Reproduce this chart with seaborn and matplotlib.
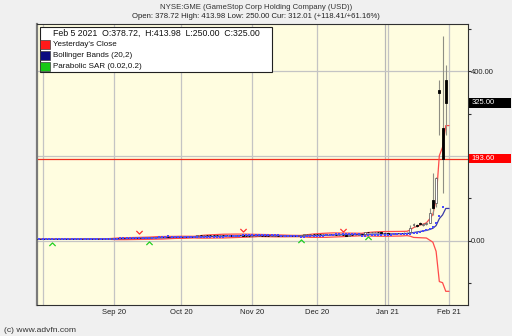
import numpy as np
import pandas as pd
import matplotlib
matplotlib.use("Agg")
import matplotlib.pyplot as plt
import matplotlib.transforms as mtransforms
from matplotlib.patches import Rectangle
import seaborn as sns

# ---------------- data ----------------
symbol_title = "NYSE:GME (GameStop Corp Holding Company (USD))"
quote_line = "Open: 378.72 High: 413.98 Low: 250.00 Cur: 312.01 (+118.41/+61.16%)"
legend_header = "Feb 5 2021  O:378.72,  H:413.98  L:250.00  C:325.00"
legend_labels = ["Yesterday's Close", "Bollinger Bands (20,2)", "Parabolic SAR (0.02,0.2)"]
legend_colors = ["#ff1a1a", "#0a0a80", "#16c816"]
footer = "(c) www.advfn.com"

start_date = "2020-07-01"
end_date = "2021-02-01"
holidays = ["2020-07-03", "2020-09-07", "2020-11-26", "2020-12-25",
            "2021-01-01", "2021-01-18"]

# closes Jul 1 - Jul 28 2020 (only feed the 20-day Bollinger window)
warmup_closes = [4.39, 4.21, 4.16, 4.02, 3.98, 3.89, 3.95, 4.02, 4.05, 4.13,
                 4.04, 4.03, 4.09, 4.17, 4.25, 4.24, 4.30, 4.37, 4.28]

# daily OHLC, Jul 29 2020 - Jan 29 2021
opens = [4.20, 4.15, 4.08,
         4.02, 4.12, 4.36, 4.45, 4.42, 4.47, 4.64, 4.47, 4.52, 4.46, 4.50, 4.60, 4.55, 4.60, 4.92, 4.85, 5.05, 5.02, 4.92, 5.21, 5.60,
         6.80, 7.60, 7.45, 7.20, 6.85, 7.00, 7.30, 7.72, 7.65, 7.42, 7.48, 7.90, 9.05, 9.75, 10.10, 10.15, 9.70, 9.90, 9.40, 9.70, 9.80,
         10.10, 9.70, 9.45, 9.50, 9.20, 11.80, 13.60, 13.40, 14.70, 14.10, 13.90, 13.70, 13.40, 14.30, 14.10, 13.20, 12.70, 12.80, 13.70, 13.10, 11.60, 11.30,
         10.70, 11.10, 11.35, 11.50, 11.40, 11.30, 11.00, 11.20, 11.25, 11.05, 11.70, 11.90, 12.20, 11.80, 11.60, 12.10, 13.80, 15.90, 16.20, 16.90,
         16.60, 16.50, 16.10, 16.95, 16.80, 16.40, 13.90, 13.80, 14.00, 13.30, 12.80, 13.90, 13.80, 14.10, 15.60, 16.00, 20.50, 20.10, 20.30, 20.90, 20.00, 19.30,
         19.00, 17.35, 17.34, 18.47, 18.18, 19.41, 19.96, 20.42, 38.49, 38.49, 41.55, 37.37, 39.23, 42.59, 96.73, 88.56, 354.83, 265.00, 379.71]
highs = [4.28, 4.19, 4.12,
         4.18, 4.40, 4.52, 4.50, 4.51, 4.68, 4.66, 4.58, 4.55, 4.53, 4.64, 4.63, 4.62, 4.97, 4.98, 5.08, 5.12, 5.06, 5.25, 5.34, 6.80,
         7.83, 7.74, 7.55, 7.30, 7.10, 7.34, 7.85, 7.95, 7.72, 7.62, 7.95, 9.10, 10.00, 10.40, 10.60, 10.20, 10.10, 10.00, 9.85, 9.95, 10.35,
         10.25, 9.80, 9.70, 9.65, 9.45, 14.29, 14.15, 15.10, 14.90, 14.40, 14.10, 13.85, 14.75, 14.60, 14.20, 13.30, 13.00, 14.00, 14.10, 13.20, 11.80, 11.45,
         11.20, 11.60, 11.70, 11.75, 11.55, 11.60, 11.35, 11.45, 11.35, 11.20, 12.25, 12.50, 12.35, 11.95, 12.20, 13.90, 16.20, 16.70, 17.30, 17.20,
         17.00, 16.80, 17.10, 17.40, 16.95, 17.20, 14.20, 14.50, 14.10, 13.40, 14.00, 14.30, 14.30, 15.80, 16.20, 21.40, 21.40, 20.50, 21.20, 21.00, 20.20, 19.40,
         19.10, 18.08, 18.98, 19.45, 18.30, 20.65, 20.40, 38.65, 43.06, 40.75, 45.52, 41.19, 44.75, 76.76, 159.18, 150.00, 380.00, 483.00, 413.98]
lows = [4.10, 4.02, 3.96,
        4.00, 4.10, 4.33, 4.37, 4.38, 4.45, 4.43, 4.44, 4.42, 4.42, 4.47, 4.52, 4.50, 4.58, 4.76, 4.82, 4.96, 4.88, 4.90, 5.15, 5.50,
        6.75, 7.35, 7.20, 6.70, 6.65, 6.95, 7.20, 7.55, 7.25, 7.30, 7.40, 7.85, 8.90, 9.60, 9.90, 9.50, 9.55, 9.25, 9.30, 9.55, 9.70,
        9.60, 9.20, 9.30, 9.05, 9.10, 11.65, 12.85, 13.30, 13.80, 13.60, 13.40, 13.10, 13.30, 13.90, 13.05, 12.50, 12.45, 12.70, 13.20, 11.45, 11.00, 10.50,
        10.55, 10.95, 11.10, 11.30, 11.05, 10.90, 10.85, 11.05, 10.95, 10.85, 11.55, 11.80, 11.70, 11.45, 11.50, 12.00, 13.60, 15.30, 15.90, 16.10,
        16.30, 15.90, 16.00, 16.70, 16.20, 16.30, 13.40, 13.60, 13.20, 12.60, 12.75, 13.60, 13.70, 14.00, 15.30, 15.90, 19.90, 19.90, 20.20, 19.80, 19.10, 18.50,
        17.15, 17.23, 17.33, 18.02, 17.08, 19.01, 19.32, 20.03, 33.05, 34.01, 36.64, 36.06, 37.00, 42.32, 61.13, 80.20, 249.00, 112.25, 250.00]
closes = [4.18, 4.08, 4.01,
          4.13, 4.35, 4.44, 4.43, 4.45, 4.62, 4.45, 4.53, 4.46, 4.49, 4.59, 4.56, 4.58, 4.91, 4.82, 5.04, 5.03, 4.91, 5.20, 5.24, 6.68,
          7.65, 7.51, 7.35, 6.78, 6.94, 7.23, 7.70, 7.68, 7.40, 7.45, 7.80, 8.98, 9.71, 10.11, 10.17, 9.65, 9.96, 9.32, 9.68, 9.78, 10.20,
          9.77, 9.39, 9.46, 9.13, 9.36, 13.49, 13.31, 14.83, 14.12, 13.96, 13.73, 13.31, 14.40, 14.19, 13.18, 12.68, 12.71, 13.77, 13.36, 11.63, 11.32, 10.65,
          11.05, 11.47, 11.42, 11.47, 11.20, 11.01, 11.19, 11.27, 11.03, 11.01, 11.88, 12.23, 11.78, 11.58, 12.03, 13.58, 15.80, 16.08, 16.94, 16.56,
          16.58, 16.12, 16.90, 16.90, 16.35, 16.94, 13.66, 14.12, 13.31, 12.72, 13.85, 13.84, 14.00, 15.63, 15.53, 20.99, 20.15, 20.15, 20.99, 20.01, 19.38, 18.84,
          17.25, 17.37, 18.36, 18.08, 17.69, 19.94, 19.95, 31.40, 39.91, 35.50, 39.36, 39.12, 43.03, 65.01, 76.79, 147.98, 347.51, 193.60, 325.00]

sell_signals = ["2020-09-14", "2020-10-28", "2020-12-11"]
buy_signals = ["2020-08-05", "2020-09-17", "2020-11-23", "2020-12-23"]

month_lines = ["2020-07-31", "2020-09-01", "2020-10-01", "2020-11-02",
               "2020-12-01", "2021-01-04", "2021-02-01"]
month_labels = ["", "Sep 20", "Oct 20", "Nov 20", "Dec 20", "Jan 21", "Feb 21"]
year_breaks = ["2021-01-04"]
y_ticks = [-100, 0, 100, 200, 300, 400, 500]
y_labelled = [0, 200, 400]
y_grid = [0, 200, 400]

# ---------------- derived ----------------
days = pd.bdate_range(start_date, end_date, freq="C", holidays=holidays)
pos = pd.Series(np.arange(len(days)), index=days)
n_warm = len(warmup_closes)
o = np.array(opens); h = np.array(highs); l = np.array(lows); c = np.array(closes)
x = np.arange(n_warm, n_warm + len(c))

s_all = pd.Series(warmup_closes + closes)
mid = s_all.rolling(20).mean().iloc[n_warm:].to_numpy()
sd = s_all.rolling(20).std(ddof=0).iloc[n_warm:].to_numpy()
upper = mid + 2 * sd
lower = mid - 2 * sd


def parabolic_sar(hi, lo, step=0.02, max_af=0.2):
    n = len(hi)
    sar = np.zeros(n)
    up = False
    af = step
    ep = lo[0]
    sar[0] = hi[0]
    for i in range(1, n):
        s = sar[i - 1] + af * (ep - sar[i - 1])
        if up:
            s = min(s, lo[i - 1], lo[max(i - 2, 0)])
            if lo[i] < s:
                up, s, ep, af = False, ep, lo[i], step
            elif hi[i] > ep:
                ep = hi[i]; af = min(af + step, max_af)
        else:
            s = max(s, hi[i - 1], hi[max(i - 2, 0)])
            if hi[i] > s:
                up, s, ep, af = True, ep, hi[i], step
            elif lo[i] < ep:
                ep = lo[i]; af = min(af + step, max_af)
        sar[i] = s
    return sar


sar = parabolic_sar(h, l)
yesterday_close = c[-2]
current_close = c[-1]

# ---------------- style ----------------
sns.set_theme(style="white")
plt.rcParams["font.family"] = ["Liberation Sans", "DejaVu Sans"]

W, H = 512, 336
fig = plt.figure(figsize=(W / 100, H / 100), dpi=100, facecolor="#f0f0f0")
L_px, R_px, T_px, B_px = 37, 467.7, 24, 305
ax = fig.add_axes([L_px / W, 1 - B_px / H, (R_px - L_px) / W, (B_px - T_px) / H])
ax.set_facecolor("#fffde0")
ax.set_xlim(19.24, 152.8)
ax.set_ylim(-150.6, 510.6)

# grid
for d in month_lines:
    ax.axvline(pos[pd.Timestamp(d)], color="#c4c4c4", lw=0.9, zorder=0.5)
for d in year_breaks:
    ax.axvline(pos[pd.Timestamp(d)] - 0.8, color="#b8b8b8", lw=0.9, zorder=0.5)
for v in y_grid:
    ax.axhline(v, color="#c4c4c4", lw=0.9, zorder=0.5)

# yesterday's close
ax.axhline(yesterday_close, color="#f03020", lw=0.9, zorder=1)

# Bollinger bands (with trailing step)
xe = np.append(x, x[-1] + 1)
for arr, col, lw in [(upper, "#ff4a4a", 0.9), (lower, "#ff4a4a", 0.9), (mid, "#3a3aa8", 0.9)]:
    sns.lineplot(x=xe, y=np.append(arr, arr[-1]), color=col, lw=lw, ax=ax,
                 zorder=2, estimator=None, sort=False)

# candles
up = c >= o
ax.vlines(x, l, h, color="#8e8e84", lw=0.8, zorder=3)
ax.bar(x[~up], (o - c)[~up], bottom=c[~up], width=0.6, color="black",
       edgecolor="black", lw=0.6, zorder=3.2)
ax.bar(x[up], (c - o)[up], bottom=o[up], width=0.6, facecolor="white",
       edgecolor="#505050", lw=0.5, zorder=3.2)

# parabolic SAR dots
sns.scatterplot(x=x[:-1], y=sar[:-1], marker="s", s=2.4, color="#4a4aff",
                linewidth=0, ax=ax, zorder=4)

# SAR reversal signals
v_marker = [(-1, 0.5), (0, -0.5), (1, 0.5)]
a_marker = [(-1, -0.5), (0, 0.5), (1, -0.5)]
tr_up = mtransforms.offset_copy(ax.transData, fig=fig, y=5.5, units="dots")
tr_dn = mtransforms.offset_copy(ax.transData, fig=fig, y=-5, units="dots")
sx = np.array([pos[pd.Timestamp(d)] for d in sell_signals])
bx = np.array([pos[pd.Timestamp(d)] for d in buy_signals])
ax.plot(sx, h[sx - n_warm], ls="none", marker=v_marker, ms=4.5, mfc="none",
        mec="#ff3030", mew=0.9, transform=tr_up, zorder=5)
ax.plot(bx, l[bx - n_warm], ls="none", marker=a_marker, ms=4.5, mfc="none",
        mec="#20d020", mew=0.9, transform=tr_dn, zorder=5)

# axes, ticks
for side in ["top", "right", "bottom"]:
    ax.spines[side].set_color("#303030")
    ax.spines[side].set_linewidth(0.8)
ax.spines["left"].set_color("#7a7a7a")
ax.spines["left"].set_linewidth(1.6)

ax.set_xticks([pos[pd.Timestamp(d)] for d in month_lines])
ax.set_xticklabels(month_labels)
ax.yaxis.tick_right()
ax.set_yticks(y_ticks)
ax.set_yticklabels([f"{v:.2f}" if v in y_labelled else "" for v in y_ticks])
ax.tick_params(axis="x", length=2.2, width=0.8, color="#909090", pad=1,
               labelsize=5.5, labelcolor="#222222")
ax.tick_params(axis="y", length=2.0, width=0.8, color="#303030", pad=0.5,
               labelsize=5.5, labelcolor="#222222")
ax.set_xlabel(""); ax.set_ylabel("")

# price label boxes on right
blend = mtransforms.blended_transform_factory(ax.transAxes, ax.transData)
box_x0 = (469 - L_px) / (R_px - L_px)
box_w = (510.7 - 469) / (R_px - L_px)
box_h = 9.5 * (510.6 + 150.6) / (B_px - T_px)
for val, col in [(current_close, "black"), (yesterday_close, "#ff0000")]:
    ax.add_patch(Rectangle((box_x0, val - box_h / 2), box_w, box_h, transform=blend,
                           facecolor=col, edgecolor="none", clip_on=False, zorder=6))
    ax.text(box_x0 + 0.006, val, f"{val:.2f}", transform=blend, color="white",
            fontsize=5.5, va="center", ha="left", clip_on=False, zorder=7)

# titles
fx = lambda px: px / W
fy = lambda py: 1 - py / H
fig.text(fx(256), fy(7.3), symbol_title, ha="center", va="center", fontsize=5.6, color="#333333")
fig.text(fx(256), fy(16.3), quote_line, ha="center", va="center", fontsize=5.6, color="#222222")
fig.text(fx(4), fy(330), footer, ha="left", va="center", fontsize=6.1, color="#333333")

# legend box
fig.add_artist(Rectangle((fx(39.5), fy(71.7)), (272.3 - 39.5) / W, (71.7 - 26.5) / H,
                         transform=fig.transFigure, facecolor="white",
                         edgecolor="#202020", lw=0.8, zorder=8))
fig.text(fx(53), fy(33.3), legend_header, ha="left", va="center", fontsize=6.3,
         color="#111111", zorder=9)
sq_top = [40.0, 50.8, 61.7]
for lab, col, t in zip(legend_labels, legend_colors, sq_top):
    fig.add_artist(Rectangle((fx(40), fy(t + 9.3)), 10 / W, 9.3 / H,
                             transform=fig.transFigure, facecolor=col,
                             edgecolor="#404040", lw=0.5, zorder=9))
    fig.text(fx(53), fy(t + 4.7), lab, ha="left", va="center", fontsize=5.8,
             color="#111111", zorder=9)

fig.savefig("out.png", dpi=100, facecolor=fig.get_facecolor())
